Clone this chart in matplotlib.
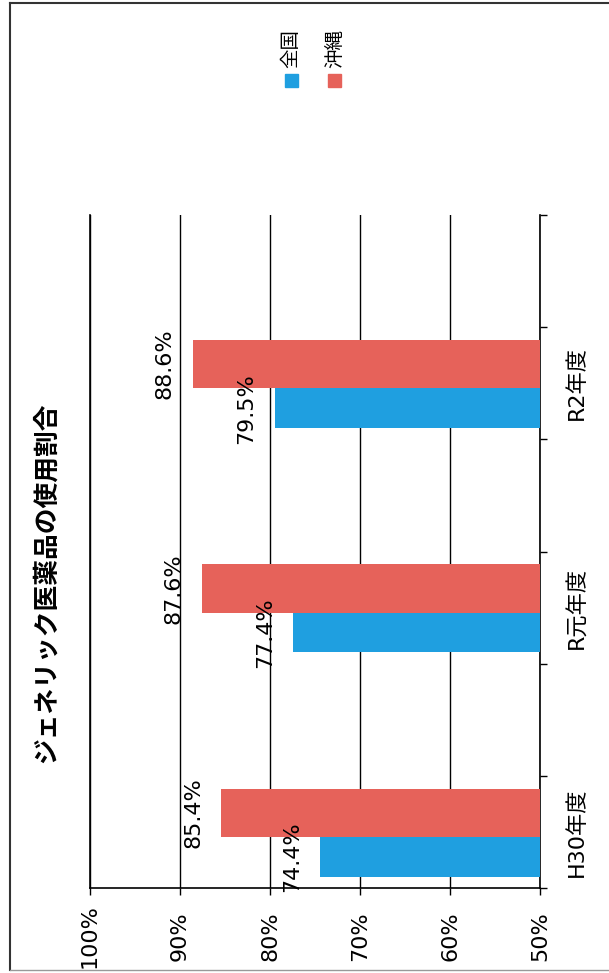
import matplotlib
matplotlib.use('Agg')
import matplotlib.pyplot as plt
from matplotlib.lines import Line2D
from matplotlib.patches import Rectangle
import numpy as np

# latin glyphs from DejaVu, kanji/kana fall through to Noto CJK
plt.rcParams['font.family'] = ['DejaVu Sans', 'Noto Sans CJK JP']

title = 'ジェネリック医薬品の使用割合'
years = ['H30年度', 'R元年度', 'R2年度']
series = ['全国', '沖縄']
zenkoku = [74.4, 77.4, 79.5]
okinawa = [85.4, 87.6, 88.6]
colors = ['#1f9fe0', '#e6625a']
xticks = [50, 60, 70, 80, 90, 100]

W, H = 609, 973
fig = plt.figure(figsize=(W / 100, H / 100), dpi=100)
# page is turned on its side: value axis runs right->left, years bottom->top
ax = fig.add_axes([90 / W, 1 - 888 / H, 450 / W, 673 / H])

# each year takes two slots on the category axis, the upper one stays empty
pos = np.arange(len(years)) * 2 + 0.5
b1 = ax.barh(pos - 0.40, np.array(zenkoku) - 50, height=0.355, left=50,
             align='edge', color=colors[0], zorder=3)
b2 = ax.barh(pos - 0.045, np.array(okinawa) - 50, height=0.43, left=50,
             align='edge', color=colors[1], zorder=3)

for bars, vals in ((b1, zenkoku), (b2, okinawa)):
    for b, v in zip(bars, vals):
        ax.annotate(f'{v:.1f}%', xy=(v, b.get_y() + b.get_height() / 2),
                    xytext=(-18, 0), textcoords='offset pixels',
                    rotation=90, ha='right', va='center', fontsize=16, zorder=4)

ax.set_xlim(100, 50)
ax.set_ylim(0, 6)
ax.set_xticks(xticks, labels=[f'{t}%' for t in xticks], rotation=90,
              va='center', fontsize=16)
ax.tick_params(axis='x', direction='out', length=5, width=1, pad=29.5)
ax.grid(axis='x', color='black', lw=1, zorder=1)

ax.yaxis.tick_right()
ax.set_yticks(range(7), labels=[''] * 7)
ax.set_yticks(pos, labels=years, minor=True, rotation=90, ha='left',
              va='center', fontsize=16)
ax.tick_params(axis='y', which='major', direction='out', length=5, width=1)
ax.tick_params(axis='y', which='minor', length=0, pad=19)

ax.spines['top'].set_visible(False)
for s in ('left', 'right', 'bottom'):
    ax.spines[s].set_linewidth(1.2)

fig.text(46 / W, 1 - 583 / H, title, rotation=90, ha='center', va='center',
         fontsize=18.5, fontweight='bold', family='Noto Sans CJK JP')

# legend, drawn by hand so the labels can be turned like the rest
for i, (name, c) in enumerate(zip(series, colors)):
    cx = 291 + 44 * i
    fig.add_artist(Rectangle(((cx - 6.5) / W, 1 - 86.5 / H), 13 / W, 13 / H,
                             transform=fig.transFigure, color=c))
    fig.text(cx / W, 1 - 68 / H, name, rotation=90, ha='center', va='bottom',
             fontsize=14, family='Noto Sans CJK JP')

# page frame
fig.add_artist(Line2D([10 / W, 10 / W], [1 - 970 / H, 1 - 3 / H], color='#333333', lw=1.5))
fig.add_artist(Line2D([10 / W, 1], [1 - 3 / H, 1 - 3 / H], color='#333333', lw=1.5))
fig.add_artist(Line2D([10 / W, 1], [1 - 970 / H, 1 - 970 / H], color='#999999', lw=1))

fig.savefig('out.png', dpi=100)
